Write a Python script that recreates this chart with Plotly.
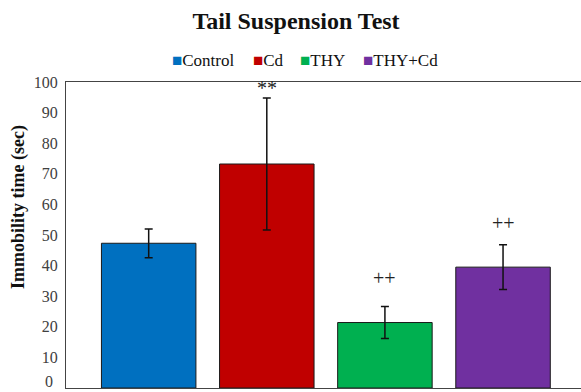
import plotly.graph_objects as go

groups = ["Control", "Cd", "THY", "THY+Cd"]
means = [47.3, 73.2, 21.4, 39.5]
errors = [4.7, 21.6, 5.2, 7.3]
colors = ["#0070C0", "#C00000", "#00B050", "#7030A0"]
marks = ["", "**", "++", "++"]
mark_y = [0, 98.0, 35.9, 54.0]
legend_x = [170, 251, 298, 361]

SERIF = "Liberation Serif, Times New Roman, serif"

fig = go.Figure()
for i, g in enumerate(groups):
    fig.add_trace(go.Bar(
        x=[i], y=[means[i]], name=g, width=0.8,
        marker=dict(color=colors[i], line=dict(color="#1a1a1a", width=1)),
        error_y=dict(type="data", array=[errors[i]], visible=True,
                     color="#111111", thickness=1.5, width=4),
        showlegend=False,
    ))

for i, m in enumerate(marks):
    if m:
        fig.add_annotation(x=i, y=mark_y[i], text=m, showarrow=False,
                           font=dict(family=SERIF, size=20, color="#222222"),
                           xref="x", yref="y")

# legend drawn as text
for i, g in enumerate(groups):
    fig.add_annotation(
        text=f"<span style='color:{colors[i]}'>■</span>{g}",
        xref="paper", yref="paper",
        x=(legend_x[i] - 66) / 515, y=(388 - 60) / 306,
        xanchor="left", yanchor="middle", showarrow=False,
        font=dict(family=SERIF, size=17, color="#111111"))

fig.add_annotation(text="0", xref="paper", yref="paper", x=-(66 - 55) / 515, y=-4 / 306,
                   xanchor="right", yanchor="bottom", showarrow=False,
                   font=dict(family=SERIF, size=16, color="#404040"))

fig.add_annotation(text="<b>Immobility time (sec)</b>", textangle=-90,
                   xref="paper", yref="paper", x=-(66 - 18) / 515, y=(388 - 207) / 306,
                   xanchor="center", yanchor="middle",
                   showarrow=False, font=dict(family=SERIF, size=18, color="#111111"))

fig.update_layout(
    width=581, height=392,
    margin=dict(l=66, r=0, t=82, b=4),
    paper_bgcolor="white", plot_bgcolor="white",
    title=dict(text="<b>Tail Suspension Test</b>", x=296/581, xanchor="center",
               xref="container", y=1 - 21/392, yanchor="middle", yref="container",
               font=dict(family=SERIF, size=24, color="#111111")),
    showlegend=False,
    bargap=0.2,
)
fig.update_xaxes(range=[-0.7, 3.66], showticklabels=False, showgrid=False,
                 zeroline=False, showline=True, linecolor="#444444", linewidth=1.2,
                 mirror=True, ticks="")
fig.update_yaxes(range=[0, 100], tickvals=[10, 20, 30, 40, 50, 60, 70, 80, 90, 100],
                 showgrid=False, zeroline=False,
                 showline=True, linecolor="#444444", linewidth=1.2, ticks="",
                 tickfont=dict(family=SERIF, size=16, color="#404040"),
                 ticklabelstandoff=4)

fig.write_html("out.html")
